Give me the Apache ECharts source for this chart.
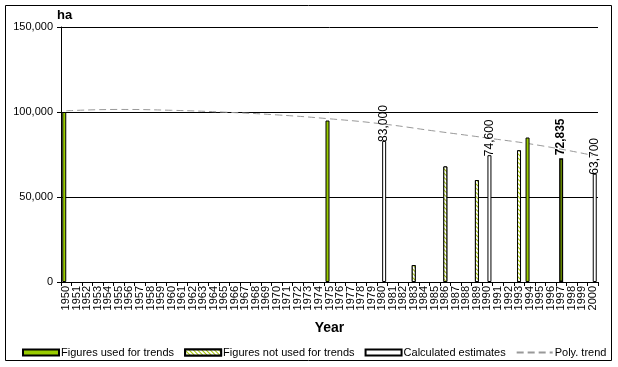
<!DOCTYPE html>
<html>
<head>
<meta charset="utf-8">
<script src="https://cdn.jsdelivr.net/npm/echarts@6/dist/echarts.min.js"></script>
<style>
html,body{margin:0;padding:0;background:#fff;}
#chart{width:618px;height:367px;}
</style>
</head>
<body>
<div id="chart"></div>
<script>
const years = ['1950','1951','1952','1953','1954','1955','1956','1957','1958','1959',
  '1960','1961','1962','1963','1964','1965','1966','1967','1968','1969',
  '1970','1971','1972','1973','1974','1975','1976','1977','1978','1979',
  '1980','1981','1982','1983','1984','1985','1986','1987','1988','1989',
  '1990','1991','1992','1993','1994','1995','1996','1997','1998','1999','2000'];

const usedYears = ['1950','1975','1994'];
const usedValues = [100000, 95000, 85000];

const notUsedYears = ['1983','1986','1989','1993'];
const notUsedValues = [10000, 68000, 60000, 77500];

const calcYears = ['1980','1990','2000'];
const calcValues = [83000, 74600, 63700];

const currentYears = ['1997'];
const currentValues = [72835];

const trendYears = ['1950','1955','1960','1965','1970','1975','1980','1985','1990','1995','2000'];
const trendValues = [100700, 101500, 101000, 99900, 98300, 96000, 93000, 88800, 84700, 80300, 74500];

const yTicks = [0, 50000, 100000, 150000];

function toSeries(ys, vs) {
  return years.map(function (y) {
    const i = ys.indexOf(y);
    return i >= 0 ? vs[i] : null;
  });
}
function fmt(v) { return String(v).replace(/\B(?=(\d{3})+(?!\d))/g, ','); }

const FONT = '"Liberation Sans", Arial, sans-serif';
const chart = echarts.init(document.getElementById('chart'), null, {renderer: 'canvas'});

chart.setOption({
  animation: false,
  backgroundColor: '#fff',
  textStyle: {fontFamily: FONT, color: '#000'},
  graphic: [{
    type: 'rect',
    shape: {x: 5.5, y: 5.5, width: 606, height: 355},
    style: {fill: 'none', stroke: '#000', lineWidth: 1},
    silent: true, z: -1
  }],
  grid: {left: 61, right: 20, top: 27, bottom: 85},
  legend: {
    bottom: 9, left: 22, padding: 0,
    itemWidth: 36, itemHeight: 6, itemGap: 10,
    textStyle: {fontFamily: FONT, fontSize: 11, color: '#000', padding: [0, 0, 0, -3]},
    data: [
      {name: 'Figures used for trends', icon: 'rect'},
      {name: 'Figures not used for trends', icon: 'rect'},
      {name: 'Calculated estimates', icon: 'rect'},
      {name: 'Poly. trend', itemStyle: {opacity: 0}}
    ]
  },
  xAxis: {
    type: 'category',
    data: years,
    boundaryGap: true,
    name: 'Year',
    nameLocation: 'middle',
    nameGap: 39,
    nameTextStyle: {fontFamily: FONT, fontSize: 14, fontWeight: 'bold', color: '#000'},
    axisLine: {lineStyle: {color: '#000', width: 1}},
    axisTick: {show: true, interval: 0, length: 4, lineStyle: {color: '#000'}},
    axisLabel: {interval: 0, rotate: 90, fontSize: 11, color: '#000', fontFamily: FONT, margin: 4},
    splitLine: {show: false}
  },
  yAxis: {
    type: 'value',
    min: 0, max: 150000, interval: 50000,
    name: 'ha',
    nameLocation: 'end',
    nameGap: 5,
    nameTextStyle: {fontFamily: FONT, fontSize: 13, fontWeight: 'bold', color: '#000', align: 'left', padding: [0, 0, 0, -4]},
    axisLine: {show: true, lineStyle: {color: '#000', width: 1}},
    axisTick: {show: true, length: 4, lineStyle: {color: '#000'}},
    axisLabel: {fontSize: 11, color: '#000', fontFamily: FONT, margin: 8,
      formatter: function (v) { return yTicks.indexOf(v) >= 0 ? fmt(v) : ''; }},
    splitLine: {show: true, lineStyle: {color: '#000', width: 1}}
  },
  series: [
    {
      name: 'Figures used for trends',
      type: 'bar',
      barWidth: 4,
      barGap: '-50%',
      data: toSeries(usedYears, usedValues),
      itemStyle: {color: '#99cc00', borderColor: '#000', borderWidth: 1}
    },
    {
      name: 'Figures not used for trends',
      type: 'bar',
      stack: 'mid',
      barWidth: 4,
      barGap: '-50%',
      data: toSeries(notUsedYears, notUsedValues),
      itemStyle: {
        color: '#fff', borderColor: '#000', borderWidth: 1,
        decal: {symbol: 'rect', color: '#a4c800', backgroundColor: '#fff',
          dashArrayX: [1, 0], dashArrayY: [1, 2], rotation: Math.PI / 4, symbolSize: 1}
      }
    },
    {
      name: 'Current',
      type: 'bar',
      stack: 'mid',
      barWidth: 4,
      barGap: '-50%',
      data: toSeries(currentYears, currentValues),
      itemStyle: {color: '#99cc00', borderColor: '#000', borderWidth: 1.5},
      label: {
        show: true, position: 'top', rotate: 90, align: 'left', verticalAlign: 'middle',
        distance: 3, fontFamily: FONT, fontSize: 12, fontWeight: 'bold', color: '#000',
        formatter: function (p) { return p.value == null ? '' : fmt(p.value); }
      }
    },
    {
      name: 'Calculated estimates',
      type: 'bar',
      barWidth: 4,
      barGap: '-50%',
      data: toSeries(calcYears, calcValues),
      itemStyle: {color: '#fff', borderColor: '#000', borderWidth: 1},
      label: {
        show: true, position: 'top', rotate: 90, align: 'left', verticalAlign: 'middle',
        distance: 1, fontFamily: FONT, fontSize: 12, color: '#000', offset: [-2, 0],
        formatter: function (p) { return p.value == null ? '' : fmt(p.value); }
      }
    },
    {
      name: 'Poly. trend',
      type: 'line',
      smooth: true,
      symbol: 'none',
      data: trendYears.map(function (y, i) { return [y, trendValues[i]]; }),
      lineStyle: {color: '#999', width: 1, type: [7, 4]},
      itemStyle: {color: '#999'},
      z: 1
    }
  ]
});
</script>
</body>
</html>
